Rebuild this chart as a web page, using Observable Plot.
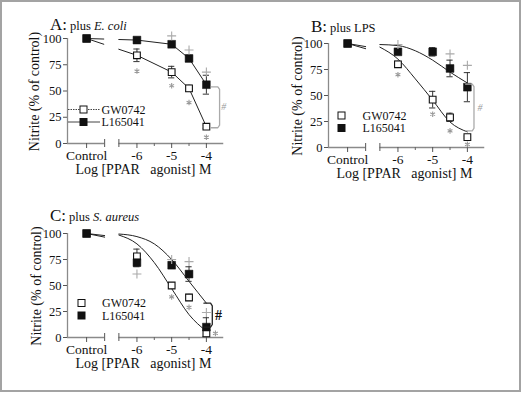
<!DOCTYPE html>
<html><head><meta charset="utf-8">
<script src="https://cdn.jsdelivr.net/npm/d3@7"></script>
<script src="https://cdn.jsdelivr.net/npm/@observablehq/plot@0.6"></script>
<style>
html,body{margin:0;padding:0;background:#fff;}
#fig{position:relative;width:522px;height:393px;overflow:hidden;background:#fff;}
#frame{position:absolute;left:0;top:0;width:521px;height:392px;box-sizing:border-box;border:2px solid #a3a3a3;}
.panel{position:absolute;}
#fig svg text, #fig svg tspan{font-family:"Liberation Serif","Times New Roman",Times,serif !important;}
</style></head><body>
<div id="fig"><div id="frame"></div></div>
<script>
// ---------- data ----------
const doseLabels = ["Control", "-6", "-5", "-4.5", "-4"];
const logDose = [null, -6, -5, -4.5, -4];
const seriesNames = ["GW0742", "L165041"];
const xTickLabels = ["Control", "-6", "-5", "-4"];

// Panel A: plus E. coli
const A_gw = [100, 84, 68, 52.5, 16];
const A_gwErr = [0, 6, 5.5, 3, 1.5];
const A_l = [100, 98.5, 94.5, 81, 56];
const A_lErr = [0, 1, 2, 3, 9];
const A_starDose = [-6, -5, -4.5, -4];
const A_starVal = [69, 55, 39, 6];
const A_plusDose = [-5, -4.5, -4];
const A_plusVal = [102.5, 89, 68];
const A_bracket = [54, 15];

// Panel B: plus LPS
const B_gw = [100, 80, 46, 29, 10];
const B_gwErr = [0, 3, 8, 4, 1];
const B_l = [100, 92, 92, 76, 58];
const B_lErr = [0, 2, 4, 8, 14];
const B_curveDose = [-6.52, -6, -5.5, -5, -4.5, -4];
const B_gwCurve = [96.5, 85, 66, 45.5, 24.5, 15];
const B_lCurve = [99, 98, 93, 84, 72.5, 62];
const B_gwCtrlLine = [100, 95];
const B_lCtrlLine = [100, 97];
const B_starDose = [-6, -5, -4.5, -4];
const B_starVal = [70, 32, 16, 3];
const B_plusDose = [-6, -4.5, -4];
const B_plusVal = [99, 90, 79];
const B_bracket = [61, 16];

// Panel C: plus S. aureus
const C_gw = [100, 78, 50, 38.5, 4];
const C_gwErr = [0, 7, 2, 3, 3];
const C_l = [100, 72, 69.5, 61, 10];
const C_lErr = [0, 4, 3, 7, 9];
const C_curveDose = [-6.52, -6, -5.5, -5, -4.5, -4];
const C_gwCurve = [98.5, 90, 72, 47, 22, 6];
const C_lCurve = [99.5, 97, 90, 75, 54, 33];
const C_gwCtrlLine = [100, 96.5];
const C_lCtrlLine = [100, 98];
const C_starDose = [-5, -4.5, -3.74];
const C_starVal = [39, 29, 4];
const C_plusDose = [-6, -5, -4.5, -4];
const C_plusVal = [61, 75, 73, 24];
const C_bracket = [33, 10];

// ---------- layout ----------
const X_DOMAIN = [-8, -3.5];
const CONTROL_POS = -7.45;
const BREAK_L = -6.93, BREAK_R = -6.52;
const CAP = 0.09;
const FONT = "Liberation Serif, Times New Roman, Times, serif";

const panels = [
  {key: "A", left: 0, top: 0, height: 196, mt: 38, mb: 53,
   title: ["A:", "plus ", "E. coli"], titleX: 50, titleY: 29.5,
   gw: A_gw, gwErr: A_gwErr, l: A_l, lErr: A_lErr, throughMeans: true,
   starDose: A_starDose, starVal: A_starVal, plusDose: A_plusDose, plusVal: A_plusVal,
   bracket: A_bracket, bracketX: -3.62, hashX: -3.5, hashColor: "#9a9a9a", hashSize: 10, hashStyle: "italic", hashWeight: "normal",
   legRows: [109.5, 122], legSq: 83.5, legText: 101.5, legLines: true, ylabX: 34},
  {key: "B", left: 261, top: 0, height: 196, mt: 43, mb: 49,
   title: ["B:", "plus LPS", ""], titleX: 50, titleY: 31.5,
   gw: B_gw, gwErr: B_gwErr, l: B_l, lErr: B_lErr, throughMeans: false,
   curveDose: B_curveDose, gwCurve: B_gwCurve, lCurve: B_lCurve, gwCtrl: B_gwCtrlLine, lCtrl: B_lCtrlLine,
   starDose: B_starDose, starVal: B_starVal, plusDose: B_plusDose, plusVal: B_plusVal,
   bracket: B_bracket, bracketX: -3.81, hashX: -3.64, hashColor: "#9a9a9a", hashSize: 10, hashStyle: "italic", hashWeight: "normal",
   legRows: [115.5, 128], legSq: 80.5, legText: 101.5, legLines: false, ylabX: 36},
  {key: "C", left: 0, top: 196, height: 197, mt: 37, mb: 56,
   title: ["C:", "plus ", "S. aureus"], titleX: 50, titleY: 25,
   gw: C_gw, gwErr: C_gwErr, l: C_l, lErr: C_lErr, throughMeans: false,
   curveDose: C_curveDose, gwCurve: C_gwCurve, lCurve: C_lCurve, gwCtrl: C_gwCtrlLine, lCtrl: C_lCtrlLine,
   starDose: C_starDose, starVal: C_starVal, plusDose: C_plusDose, plusVal: C_plusVal,
   bracket: C_bracket, bracketX: -3.83, hashX: -3.65, hashColor: "#111", hashSize: 14, hashStyle: "normal", hashWeight: "bold",
   legRows: [107, 119.5], legSq: 81.5, legText: 102, legLines: false, ylabX: 36}
];

const pos = i => (i === 0 ? CONTROL_POS : logDose[i]);
const rows = (vals, errs, name) => vals.map((v, i) => ({x: pos(i), y: v, e: errs[i], name, dose: doseLabels[i]}));
const pts = (xs, ys) => xs.map((x, i) => ({x, y: ys[i]}));

function makePanel(cfg) {
  const gw = rows(cfg.gw, cfg.gwErr, seriesNames[0]);
  const l = rows(cfg.l, cfg.lErr, seriesNames[1]);
  const all = gw.concat(l).filter(d => d.e > 0);
  const marks = [];
  const xTicks = [CONTROL_POS, -6, -5, -4];
  // axes
  marks.push(Plot.ruleX([X_DOMAIN[0]], {y1: 0, y2: 100, stroke: "#8a8a8a", strokeWidth: 1.3}));
  marks.push(Plot.axisY({ticks: [0, 25, 50, 75, 100], tickSize: 4, tickPadding: 2, tickFormat: d => String(d),
    label: null, fontSize: 12.5, fontFamily: FONT, stroke: "#555", fill: "#111"}));
  marks.push(Plot.ruleY([0], {x1: X_DOMAIN[0], x2: BREAK_L, stroke: "#8a8a8a", strokeWidth: 1.6}));
  marks.push(Plot.ruleY([0], {x1: BREAK_R, x2: X_DOMAIN[1], stroke: "#8a8a8a", strokeWidth: 1.6}));
  marks.push(Plot.axisX({ticks: xTicks, tickSize: 5, tickPadding: 2, label: null,
    tickFormat: d => xTickLabels[xTicks.indexOf(d)], fontSize: 13.5, fontFamily: FONT, stroke: "#555", fill: "#111"}));
  marks.push(Plot.axisX({ticks: [-5.5, -4.5], tickSize: 3, text: null, label: null, stroke: "#666"}));
  marks.push(Plot.ruleX([BREAK_L, BREAK_R], {y1: 0, y2: 0, insetTop: -4, insetBottom: -4, stroke: "#555"}));

  // lines / curves
  if (cfg.throughMeans) {
    marks.push(Plot.line(gw, {x: "x", y: "y", stroke: "#222", strokeWidth: 1}));
    marks.push(Plot.line(l, {x: "x", y: "y", stroke: "#222", strokeWidth: 1}));
    marks.push(Plot.rect([0], {x1: BREAK_L, x2: BREAK_R, y1: 80, y2: 104, fill: "white"}));
  } else {
    marks.push(Plot.line(pts(cfg.curveDose, cfg.gwCurve), {x: "x", y: "y", curve: "monotone-x", stroke: "#222", strokeWidth: 1}));
    marks.push(Plot.line(pts(cfg.curveDose, cfg.lCurve), {x: "x", y: "y", curve: "monotone-x", stroke: "#222", strokeWidth: 1}));
    marks.push(Plot.line(pts([CONTROL_POS, BREAK_L], cfg.gwCtrl), {x: "x", y: "y", stroke: "#222", strokeWidth: 1}));
    marks.push(Plot.line(pts([CONTROL_POS, BREAK_L], cfg.lCtrl), {x: "x", y: "y", stroke: "#222", strokeWidth: 1}));
  }
  // error bars
  marks.push(Plot.ruleX(all, {x: "x", y1: d => d.y - d.e, y2: d => d.y + d.e, stroke: "#333", strokeWidth: 1}));
  marks.push(Plot.ruleY(all, {x1: d => d.x - CAP, x2: d => d.x + CAP, y: d => d.y + d.e, stroke: "#333", strokeWidth: 1}));
  marks.push(Plot.ruleY(all, {x1: d => d.x - CAP, x2: d => d.x + CAP, y: d => d.y - d.e, stroke: "#333", strokeWidth: 1}));
  // markers
  marks.push(Plot.dot(gw, {x: "x", y: "y", symbol: "square", r: 3.8, fill: "white", stroke: "#111", strokeWidth: 1.1}));
  marks.push(Plot.dot(l, {x: "x", y: "y", symbol: "square", r: 4.4, fill: "#111", stroke: "#111", strokeWidth: 0.5}));
  // significance
  marks.push(Plot.dot(pts(cfg.starDose, cfg.starVal), {x: "x", y: "y", symbol: "asterisk", r: 2.6, stroke: "#999", strokeWidth: 1.1}));
  marks.push(Plot.dot(pts(cfg.plusDose, cfg.plusVal), {x: "x", y: "y", symbol: "plus", r: 3, stroke: "#aaa", strokeWidth: 1.1}));
  // bracket
  const [top, bot] = cfg.bracket, bx = cfg.bracketX;
  const br = [{x: bx - 0.24, y: top}, {x: bx - 0.05, y: top}, {x: bx, y: top - 2.5},
              {x: bx, y: bot + 2.5}, {x: bx - 0.05, y: bot}, {x: bx - 0.24, y: bot}];
  marks.push(Plot.line(br, {x: "x", y: "y", stroke: cfg.hashColor === "#111" ? "#222" : "#aaa", strokeWidth: 1.3}));
  marks.push(Plot.text(["#"], {x: cfg.hashX, y: (top + bot) / 2, text: d => d, fill: cfg.hashColor, fontFamily: FONT,
    fontSize: cfg.hashSize, fontStyle: cfg.hashStyle, fontWeight: cfg.hashWeight}));

  const plot = Plot.plot({
    width: 261, height: cfg.height,
    marginLeft: 67, marginRight: 37.75, marginTop: cfg.mt, marginBottom: cfg.mb,
    x: {domain: X_DOMAIN, axis: null},
    y: {domain: [0, 100], axis: null},
    style: {fontFamily: FONT, fontSize: "13px", background: "transparent", overflow: "visible", color: "#111"},
    marks
  });

  const svg = d3.select(plot);
  const xs = plot.scale("x"), ys = plot.scale("y");
  // title
  const t = svg.append("text").attr("x", cfg.titleX).attr("y", cfg.titleY).attr("fill", "#111")
    .attr("text-anchor", "start");
  t.append("tspan").attr("font-size", 17).text(cfg.title[0]);
  t.append("tspan").attr("font-size", 12.5).attr("dx", 3).text(cfg.title[1]);
  if (cfg.title[2]) t.append("tspan").attr("font-size", 12.5).attr("font-style", "italic").text(cfg.title[2]);
  // y label
  svg.append("text").attr("transform", `translate(${cfg.ylabX},${ys.apply(50) + 1}) rotate(-90)`)
    .attr("text-anchor", "middle").attr("dominant-baseline", "central").attr("font-size", 14).attr("fill", "#111")
    .text("Nitrite (% of control)");
  // x label
  svg.append("text").attr("x", xs.apply(-5.8)).attr("y", ys.apply(0) + 31).attr("text-anchor", "middle")
    .attr("font-size", 14).attr("fill", "#111").style("white-space", "pre")
    .text("Log [PPAR   agonist] M");
  // legend
  seriesNames.forEach((name, i) => {
    const ry = cfg.legRows[i];
    if (cfg.legLines) svg.append("line").attr("x1", 68).attr("x2", 100).attr("y1", ry).attr("y2", ry)
      .attr("stroke", "#444").attr("stroke-width", 1).attr("stroke-dasharray", i === 0 ? "1.5,1" : null);
    svg.append("rect").attr("x", cfg.legSq - 3.5).attr("y", ry - 3.5).attr("width", 7).attr("height", 7)
      .attr("fill", i === 0 ? "white" : "#111").attr("stroke", "#111").attr("stroke-width", 1);
    svg.append("text").attr("x", cfg.legText).attr("y", ry).attr("dominant-baseline", "central")
      .attr("text-anchor", "start").attr("font-size", 12).attr("fill", "#111").text(name);
  });

  const div = document.createElement("div");
  div.className = "panel";
  div.style.left = cfg.left + "px";
  div.style.top = cfg.top + "px";
  div.appendChild(plot);
  return div;
}

const fig = document.getElementById("fig");
panels.forEach(cfg => fig.appendChild(makePanel(cfg)));
</script>
</body></html>
